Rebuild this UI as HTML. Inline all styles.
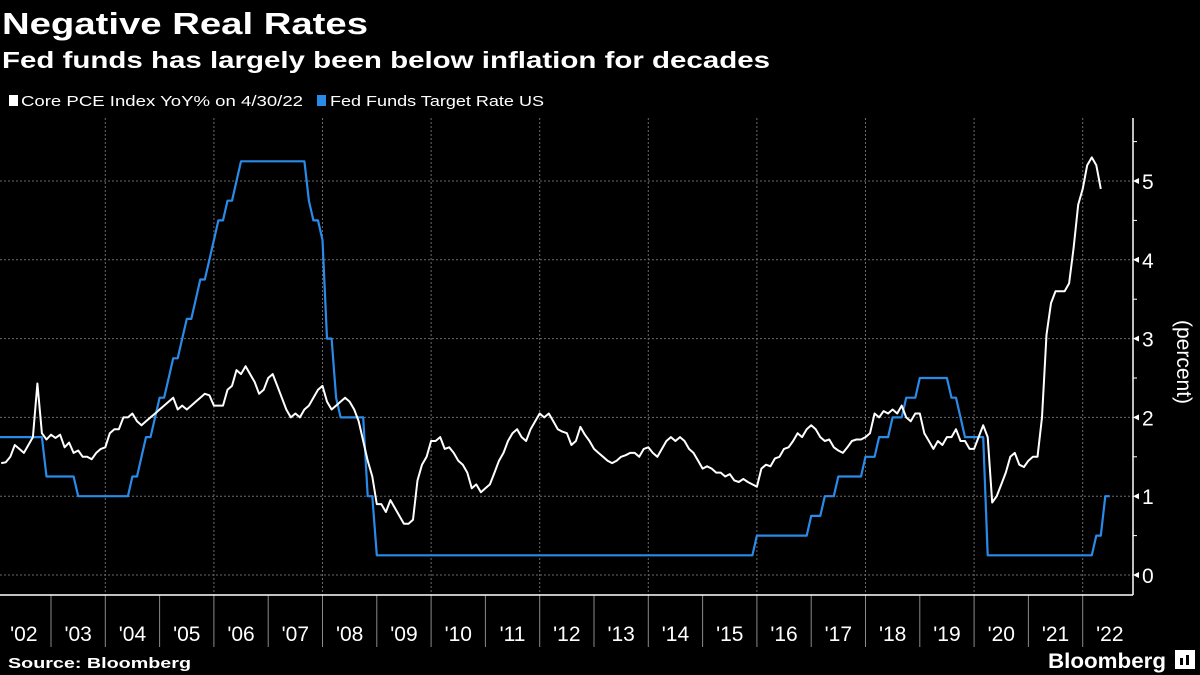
<!DOCTYPE html>
<html><head><meta charset="utf-8"><style>
html,body{margin:0;padding:0;background:#000;width:1200px;height:675px;overflow:hidden}
svg{display:block;font-family:"Liberation Sans","DejaVu Sans",sans-serif}
</style></head><body>
<svg id="chart" width="1200" height="675" viewBox="0 0 1200 675">
<text x="2" y="34" fill="#fff" font-size="31" font-weight="bold" textLength="366" lengthAdjust="spacingAndGlyphs">Negative Real Rates</text>
<text x="2" y="68" fill="#fff" font-size="23" font-weight="bold" textLength="768" lengthAdjust="spacingAndGlyphs">Fed funds has largely been below inflation for decades</text>
<g>
<g><rect x="9" y="95" width="9" height="11" fill="#fff"/><text x="21" y="106" fill="#fff" font-size="15" textLength="282" lengthAdjust="spacingAndGlyphs">Core PCE Index YoY% on 4/30/22</text></g>
<g><rect x="317" y="95" width="9" height="11" fill="#2a8ae8"/><text x="330" y="106" fill="#fff" font-size="15" textLength="214" lengthAdjust="spacingAndGlyphs">Fed Funds Target Rate US</text></g>
</g>
<g id="grid"></g>
<g id="axes"></g>
<g id="series"></g>
<text transform="translate(1177,362) rotate(90)" fill="#fff" font-size="21" text-anchor="middle">(percent)</text>
<text x="8" y="668" fill="#fff" font-size="15" font-weight="bold" textLength="183" lengthAdjust="spacingAndGlyphs">Source: Bloomberg</text>
<g><text x="1048" y="668" fill="#fff" font-size="21" font-weight="bold" textLength="118" lengthAdjust="spacingAndGlyphs">Bloomberg</text><rect x="1175" y="650" width="20" height="19" fill="#fff"/><rect x="1180" y="658" width="3" height="7" fill="#000"/><rect x="1186" y="655" width="3" height="10" fill="#000"/></g>
</svg>
<script>
const yTicks=[0,1,2,3,4,5];
const yearLabels=["'02","'03","'04","'05","'06","'07","'08","'09","'10","'11","'12","'13","'14","'15","'16","'17","'18","'19","'20","'21","'22"];
const pceStartYear=2002;
const pce2002=[1.42,1.43,1.50,1.65,1.60,1.55,1.65,1.75,2.43,1.80,1.72,1.78];
const pce2003=[1.74,1.78,1.62,1.68,1.55,1.58,1.50,1.50,1.47,1.55,1.60,1.62];
const pce2004=[1.80,1.85,1.85,2.00,2.00,2.05,1.95,1.90,1.95,2.00,2.05,2.10];
const pce2005=[2.15,2.20,2.25,2.10,2.15,2.10,2.15,2.20,2.25,2.30,2.28,2.15];
const pce2006=[2.15,2.15,2.35,2.40,2.60,2.55,2.65,2.55,2.45,2.30,2.35,2.50];
const pce2007=[2.55,2.40,2.25,2.10,2.00,2.05,2.00,2.10,2.15,2.25,2.35,2.40];
const pce2008=[2.20,2.10,2.15,2.20,2.25,2.20,2.10,1.95,1.70,1.45,1.25,0.90];
const pce2009=[0.90,0.80,0.95,0.85,0.75,0.65,0.65,0.70,1.20,1.40,1.50,1.70];
const pce2010=[1.70,1.75,1.60,1.62,1.55,1.45,1.40,1.30,1.10,1.15,1.05,1.10];
const pce2011=[1.15,1.30,1.45,1.55,1.70,1.80,1.85,1.75,1.70,1.85,1.95,2.05];
const pce2012=[2.00,2.05,1.95,1.85,1.82,1.80,1.65,1.70,1.88,1.78,1.70,1.60];
const pce2013=[1.55,1.50,1.45,1.42,1.45,1.50,1.52,1.55,1.55,1.50,1.60,1.62];
const pce2014=[1.55,1.50,1.60,1.70,1.75,1.70,1.75,1.70,1.60,1.55,1.45,1.35];
const pce2015=[1.38,1.35,1.30,1.30,1.25,1.28,1.20,1.18,1.22,1.18,1.15,1.12];
const pce2016=[1.35,1.40,1.38,1.48,1.50,1.60,1.62,1.70,1.80,1.75,1.85,1.90];
const pce2017=[1.85,1.75,1.70,1.72,1.62,1.58,1.55,1.62,1.70,1.72,1.72,1.75];
const pce2018=[1.80,2.05,2.00,2.08,2.05,2.10,2.05,2.15,2.00,1.95,2.05,2.05];
const pce2019=[1.80,1.70,1.60,1.70,1.65,1.75,1.75,1.85,1.70,1.70,1.60,1.60];
const pce2020=[1.75,1.90,1.75,0.92,1.00,1.15,1.30,1.50,1.55,1.40,1.37,1.45];
const pce2021=[1.50,1.50,2.00,3.05,3.45,3.60,3.60,3.60,3.70,4.15,4.70,4.90];
const pce2022=[5.20,5.30,5.20,4.90];
const pce=[].concat(pce2002,pce2003,pce2004,pce2005,pce2006,pce2007,pce2008,pce2009,pce2010,pce2011,pce2012,pce2013,pce2014,pce2015,pce2016,pce2017,pce2018,pce2019,pce2020,pce2021,pce2022);
// Fed funds target: month index (0 = Jan 2002) where a new level takes effect
const fedChangeMonths=[0,10,17,29,31,32,34,35,37,38,40,41,43,44,46,47,48,50,52,53,68,69,71,72,74,75,81,83,167,179,182,185,191,194,197,200,203,210,212,213,218,242,244];
const fedChangeLevels=[1.75,1.25,1.0,1.25,1.5,1.75,2.0,2.25,2.5,2.75,3.0,3.25,3.5,3.75,4.0,4.25,4.5,4.75,5.0,5.25,4.75,4.5,4.25,3.0,2.25,2.0,1.0,0.25,0.5,0.75,1.0,1.25,1.5,1.75,2.0,2.25,2.5,2.25,2.0,1.75,0.25,0.5,1.0];
const fedLastMonth=245;

const NS="http://www.w3.org/2000/svg";
const X0=51, YW=54.3, Y0=575, YU=78.8, RIGHT=1133, TOP=118, BOT=595;
const xScale=t=>X0+(t-2003)*YW;
const yScale=v=>Y0-v*YU;
const xMonth=i=>xScale(pceStartYear+(i+1)/12);
function mk(tag,attrs,parent){const e=document.createElementNS(NS,tag);for(const k in attrs)e.setAttribute(k,attrs[k]);parent.appendChild(e);return e;}
const grid=document.getElementById('grid'),axes=document.getElementById('axes'),series=document.getElementById('series');
yTicks.forEach(v=>{
  const l=mk('line',{x1:0,x2:RIGHT,y1:yScale(v),y2:yScale(v),stroke:'#6a6a6a','stroke-width':1,'stroke-dasharray':'2,2'},grid);
  
  
  const t=mk('text',{x:RIGHT+9,y:yScale(v)+8,fill:'#fff','font-size':21},axes);
  t.textContent=v;
  
  
  mk('path',{d:`M${RIGHT} ${yScale(v)} l6 -3 v6 z`,fill:'#fff'},axes);
});
for(let v=0.5;v<5.6;v+=1){mk('line',{x1:RIGHT,x2:RIGHT+4,y1:yScale(v),y2:yScale(v),stroke:'#fff'},axes);}
yearLabels.forEach((lab,i)=>{
  const yr=pceStartYear+i;
  if(i>0){
    const tk=mk('line',{x1:xScale(yr),x2:xScale(yr),y1:BOT,y2:647,stroke:'#8a8a8a','stroke-width':1},axes);
    
    
    if(yr%2===0){
      const g=mk('line',{x1:xScale(yr),x2:xScale(yr),y1:TOP,y2:BOT,stroke:'#6a6a6a','stroke-width':1,'stroke-dasharray':'2,2'},grid);
      
      
    }
  }
  const t=mk('text',{x:xScale(yr+0.5),y:641,fill:'#fff','font-size':21,'text-anchor':'middle'},axes);
  t.textContent=lab;
  
  
});
const ax=mk('line',{x1:0,x2:RIGHT,y1:BOT,y2:BOT,stroke:'#fff','stroke-width':1.5},axes);


const ay=mk('line',{x1:RIGHT,x2:RIGHT,y1:TOP,y2:BOT,stroke:'#fff','stroke-width':1.5},axes);


// fed funds monthly
const fed=[];let lvl=fedChangeLevels[0],ci=0;
for(let m=0;m<=fedLastMonth;m++){while(ci<fedChangeMonths.length&&fedChangeMonths[ci]<=m){lvl=fedChangeLevels[ci];ci++;}fed.push(lvl);}
const fedPts=fed.map((v,i)=>`${xMonth(i).toFixed(1)},${yScale(v).toFixed(1)}`);
fedPts.unshift(`0,${yScale(fed[0]).toFixed(1)}`);
const fl=mk('polyline',{points:fedPts.join(' '),fill:'none',stroke:'#2a8ae8','stroke-width':2.2,'stroke-linejoin':'round'},series);


const pl=mk('polyline',{points:pce.map((v,i)=>`${xMonth(i).toFixed(1)},${yScale(v).toFixed(1)}`).join(' '),fill:'none',stroke:'#fff','stroke-width':2,'stroke-linejoin':'round'},series);


</script>
</body></html>
